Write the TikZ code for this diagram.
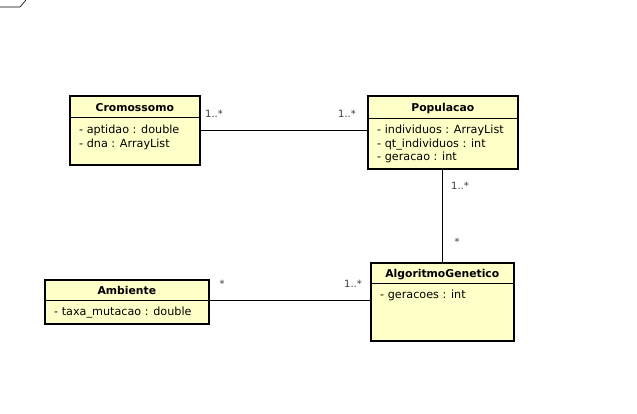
\documentclass[tikz,border=0pt]{standalone}
\usepackage{fontspec}
\setmainfont{DejaVu Sans}
\usetikzlibrary{positioning}
\definecolor{classfill}{RGB}{255,255,200}
\definecolor{multgray}{RGB}{60,60,60}

\begin{document}
\begin{tikzpicture}[x=1pt, y=-1pt,
  classbox/.style={draw, line width=1.6pt, fill=classfill, anchor=north west, inner sep=0pt},
  classname/.style={anchor=base, inner sep=0pt, font=\fontsize{10.8}{12}\selectfont\bfseries},
  attr/.style={anchor=base west, inner sep=0pt, font=\fontsize{11.2}{13}\selectfont},
  mult/.style={font=\fontsize{10}{11}\selectfont, text=multgray, inner sep=0pt},
  divider/.style={line width=0.8pt},
  assoc/.style={line width=0.8pt}]
\useasboundingbox (0,0) rectangle (637,414);

% moldura cortada no canto
\node[inner sep=0pt, anchor=base, font=\fontsize{9}{11}\selectfont] (frametab) at (5,-1) {g};
\draw[line width=0.6pt] (0,7) -- (20,7) -- (26,0);

% Cromossomo
\node[classbox, minimum width=130pt, minimum height=69pt] (crom) at (69,95) {};
\draw[divider] ([yshift=-22pt]crom.north west) -- ([yshift=-22pt]crom.north east);
\node[classname] (crom-name) at ([yshift=-17pt]crom.north) {Cromossomo};
\node[attr] (crom-a1) at ([xshift=10pt,yshift=-39pt]crom.north west) {- aptidao : double};
\node[attr] (crom-a2) at ([yshift=-14pt]crom-a1.base west) {- dna : ArrayList};

% Populacao
\node[classbox, minimum width=150pt, minimum height=73pt] (pop) at (367,95) {};
\draw[divider] ([yshift=-23pt]pop.north west) -- ([yshift=-23pt]pop.north east);
\node[classname] (pop-name) at ([yshift=-17pt]pop.north) {Populacao};
\node[attr] (pop-a1) at ([xshift=10pt,yshift=-39pt]pop.north west) {- individuos : ArrayList};
\node[attr] (pop-a2) at ([yshift=-13.5pt]pop-a1.base west) {- qt\_individuos : int};
\node[attr] (pop-a3) at ([yshift=-13.5pt]pop-a2.base west) {- geracao : int};

% Ambiente
\node[classbox, minimum width=164pt, minimum height=44pt] (amb) at (44,279) {};
\draw[divider] ([yshift=-21pt]amb.north west) -- ([yshift=-21pt]amb.north east);
\node[classname] (amb-name) at ([yshift=-15pt]amb.north) {Ambiente};
\node[attr] (amb-a1) at ([xshift=10pt,yshift=-36pt]amb.north west) {- taxa\_mutacao : double};

% AlgoritmoGenetico
\node[classbox, minimum width=143pt, minimum height=78pt] (alg) at (370,262) {};
\draw[divider] ([yshift=-21pt]alg.north west) -- ([yshift=-21pt]alg.north east);
\node[classname] (alg-name) at ([yshift=-15pt]alg.north) {AlgoritmoGenetico};
\node[attr] (alg-a1) at ([xshift=10pt,yshift=-36pt]alg.north west) {- geracoes : int};

% associacoes
\coordinate (crom-end) at ([yshift=-35pt]crom.north east);
\draw[assoc] (crom-end) -- (crom-end -| pop.west);
\node[mult] (m1) at (214,114) {1..*};
\node[mult] (m2) at (347,114) {1..*};

\coordinate (pop-end) at (pop.south -| 442,0);
\draw[assoc] (pop-end) -- (pop-end |- alg.north);
\node[mult] (m3) at (460,186) {1..*};
\node[mult] (m4) at (457,242) {*};

\coordinate (amb-end) at ([yshift=-21pt]amb.north east);
\draw[assoc] (amb-end) -- (amb-end -| alg.west);
\node[mult] (m5) at (222,284) {*};
\node[mult] (m6) at (353,284) {1..*};
\end{tikzpicture}
\end{document}
